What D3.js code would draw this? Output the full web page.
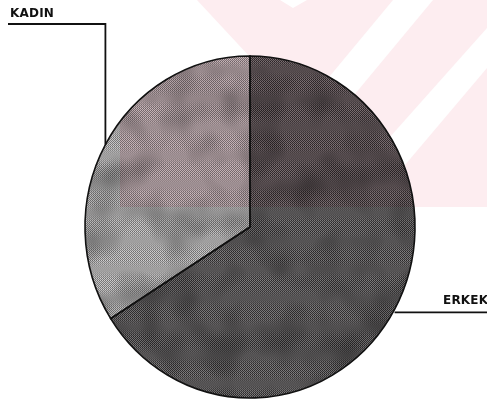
<!DOCTYPE html>
<html>
<head>
<meta charset="utf-8">
<script src="https://cdn.jsdelivr.net/npm/d3@7"></script>
<style>
  body { margin: 0; background: #fff; }
  svg { display: block; }
</style>
</head>
<body>
<div id="chart"></div>
<script>
const categories = ["ERKEK", "KADIN"];
const values = [66, 34];

const layout = {
    width: 487,
    height: 407,
    cx: 250,
    cy: 227,
    r: 165,
    yStretch: 171 / 165
};

let svg = d3.select("#chart").append("svg")
    .attr("width", layout.width)
    .attr("height", layout.height)
    .attr("viewBox", [0, 0, layout.width, layout.height].join(" "));

let defs = svg.append("defs");

// faint pink watermark behind the pie (from the scan)
const pink = "#fdedf0";
svg.append("path")
    .attr("d", d3.line()([[197, 0], [487, 0], [487, 207], [250, 207], [250, 57]]) + "Z")
    .attr("fill", pink);
const whiteAreas = [
    [[280, 0], [307, 0], [293, 8]],
    [[393, 0], [433, 0], [350, 100], [310, 100]],
    [[487, 28], [487, 68], [405, 165], [365, 165]]
];
whiteAreas.forEach(poly => {
    svg.append("path").attr("d", d3.line()(poly) + "Z").attr("fill", "#fff");
});

// dithered fills, like the scanned print
const fills = { ERKEK: ["#262425", "#858384"], KADIN: ["#6c6c6c", "#d4d2d3"] };
categories.forEach(c => {
    let p = defs.append("pattern")
        .attr("id", "pat-" + c)
        .attr("width", 2).attr("height", 2)
        .attr("patternUnits", "userSpaceOnUse");
    p.append("rect").attr("width", 2).attr("height", 2).attr("fill", fills[c][1]);
    p.append("rect").attr("width", 1).attr("height", 1).attr("fill", fills[c][0]);
    p.append("rect").attr("x", 1).attr("y", 1).attr("width", 1).attr("height", 1).attr("fill", fills[c][0]);
});

// blotchy scan texture
let filt = defs.append("filter").attr("id", "mottle")
    .attr("x", 0).attr("y", 0).attr("width", "100%").attr("height", "100%");
filt.append("feTurbulence")
    .attr("type", "fractalNoise")
    .attr("baseFrequency", 0.025)
    .attr("numOctaves", 2)
    .attr("seed", 7);
filt.append("feColorMatrix")
    .attr("type", "matrix")
    .attr("values", "0 0 0 0 0  0 0 0 0 0  0 0 0 0 0  0 0 0 -2.2 1.3");

let pie = d3.pie().sort(null).value(d => d.value);
let arcs = pie(categories.map((c, i) => ({ name: c, value: values[i] })));
let arc = d3.arc().innerRadius(0).outerRadius(layout.r);

let g = svg.append("g")
    .attr("transform", `translate(${layout.cx},${layout.cy}) scale(1,${layout.yStretch})`);

defs.append("clipPath").attr("id", "pieclip")
    .append("ellipse")
    .attr("cx", layout.cx).attr("cy", layout.cy)
    .attr("rx", layout.r).attr("ry", layout.r * layout.yStretch);

g.selectAll("path.slice")
    .data(arcs)
    .join("path")
    .attr("class", "slice")
    .attr("d", arc)
    .attr("fill", d => `url(#pat-${d.data.name})`);

svg.append("rect")
    .attr("x", layout.cx - layout.r).attr("y", layout.cy - layout.r * layout.yStretch)
    .attr("width", layout.r * 2).attr("height", layout.r * 2 * layout.yStretch)
    .attr("clip-path", "url(#pieclip)")
    .attr("filter", "url(#mottle)")
    .attr("opacity", 0.28);

// pink tint over the upper part of the pie
svg.append("g").attr("clip-path", "url(#pieclip)")
    .style("mix-blend-mode", "multiply")
    .append("rect")
    .attr("x", 120).attr("y", 0)
    .attr("width", layout.width - 120).attr("height", 207)
    .attr("fill", "#fbe4e9");

let g2 = svg.append("g")
    .attr("transform", `translate(${layout.cx},${layout.cy}) scale(1,${layout.yStretch})`);
g2.selectAll("path.edge")
    .data(arcs)
    .join("path")
    .attr("class", "edge")
    .attr("d", arc)
    .attr("fill", "none")
    .attr("stroke", "#111")
    .attr("stroke-width", 1.6);

// leader lines + labels
function edgePoint(d) {
    let a = (d.startAngle + d.endAngle) / 2;
    return [layout.cx + layout.r * Math.sin(a), layout.cy - layout.r * layout.yStretch * Math.cos(a)];
}

let kadin = arcs[1], erkek = arcs[0];
let pk = edgePoint(kadin);
svg.append("path")
    .attr("d", d3.line()([pk, [pk[0], 24], [8, 24]]))
    .attr("fill", "none")
    .attr("stroke", "#111")
    .attr("stroke-width", 1.8);
svg.append("text")
    .attr("x", 10).attr("y", 17)
    .text(kadin.data.name);

let pe = edgePoint(erkek);
svg.append("path")
    .attr("d", d3.line()([[pe[0], pe[1] + 3], [layout.width, pe[1] + 3]]))
    .attr("fill", "none")
    .attr("stroke", "#111")
    .attr("stroke-width", 1.8);
svg.append("text")
    .attr("x", 443).attr("y", 304)
    .text(erkek.data.name);

svg.selectAll("text")
    .attr("font-family", "DejaVu Sans, sans-serif")
    .attr("font-weight", "bold")
    .attr("font-size", 12)
    .attr("letter-spacing", 0.2)
    .attr("fill", "#111");
</script>
</body>
</html>
